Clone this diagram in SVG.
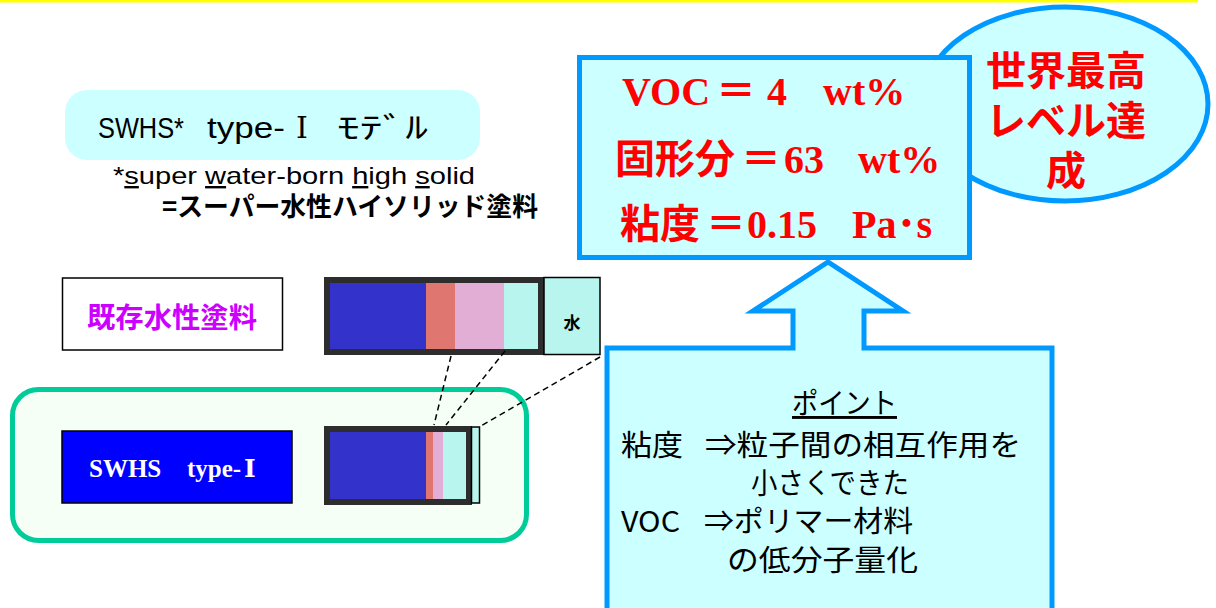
<svg xmlns="http://www.w3.org/2000/svg" width="1216" height="608" viewBox="0 0 1216 608">
<style>
.blueline{stroke:#0099ff;stroke-width:5;fill:#ccffff}
.red{fill:#ff0000;font-family:"Liberation Serif","Noto Sans CJK JP",serif;font-weight:bold;font-size:40px}
.redj{fill:#ff0000;font-family:"Noto Sans CJK JP",sans-serif;font-weight:bold;font-size:40px}
.pt{fill:#000;font-family:"Noto Sans CJK JP",sans-serif;font-size:29px}
.dash{stroke:#000;stroke-width:1.5;stroke-dasharray:6 4;fill:none}
.frame{fill:none;stroke:#2d2d2d;stroke-width:6}
</style>
<rect x="0" y="0" width="1198" height="2.5" fill="#ffff00"/>

<g id="title">
<rect x="65" y="90" width="415" height="70" rx="22" fill="#ccffff"/>
<text y="138" font-family="Liberation Sans,Noto Sans CJK JP,sans-serif" font-size="30" fill="#000"><tspan x="98" textLength="86" lengthAdjust="spacingAndGlyphs">SWHS*</tspan><tspan x="207" textLength="78" lengthAdjust="spacingAndGlyphs">type-</tspan><tspan x="296" font-family="Liberation Serif,DejaVu Serif,serif">Ⅰ</tspan><tspan x="337" textLength="91" lengthAdjust="spacingAndGlyphs">ﾓﾃﾞﾙ</tspan></text>
</g>

<g id="footnote">
<text x="113" y="184" font-family="Liberation Sans,sans-serif" font-size="24" fill="#000" textLength="362" lengthAdjust="spacingAndGlyphs">*<tspan text-decoration="underline">s</tspan>uper <tspan text-decoration="underline">w</tspan>ater-born <tspan text-decoration="underline">h</tspan>igh <tspan text-decoration="underline">s</tspan>olid</text>
<text x="162" y="216" font-family="Noto Sans CJK JP,sans-serif" font-size="26" font-weight="bold" fill="#000" textLength="376" lengthAdjust="spacingAndGlyphs">=スーパー水性ハイソリッド塗料</text>
</g>

<g id="existing-label">
<rect x="62.5" y="278" width="220" height="72" fill="#fff" stroke="#000" stroke-width="1.5"/>
<text x="87" y="328" font-family="Noto Sans CJK JP,sans-serif" font-size="28" font-weight="bold" fill="#cc00ff" textLength="170" lengthAdjust="spacingAndGlyphs">既存水性塗料</text>
</g>

<g id="existing-bar">
<rect x="330" y="283" width="96" height="66" fill="#3333cc"/>
<rect x="426" y="283" width="29" height="66" fill="#e07670"/>
<rect x="455" y="283" width="49" height="66" fill="#e2aed6"/>
<rect x="504" y="283" width="34" height="66" fill="#b8f5ee"/>
<rect x="327" y="280" width="214" height="72" class="frame"/>
<rect x="544" y="277.5" width="56" height="77" fill="#b8f5ee" stroke="#000" stroke-width="1.5"/>
<text x="572" y="329" text-anchor="middle" font-family="Noto Sans CJK JP,sans-serif" font-size="17" font-weight="bold" fill="#000">水</text>
</g>

<g id="swhs-group">
<rect x="12.5" y="389.5" width="514" height="151" rx="26" fill="#f5fff5" stroke="#00cc99" stroke-width="5"/>
<rect x="62" y="431" width="230" height="72" fill="#0000ff" stroke="#000" stroke-width="1.5"/>
<text y="477" font-family="Liberation Serif,DejaVu Serif,Noto Sans CJK JP,serif" font-size="25" font-weight="bold" fill="#fff"><tspan x="89">SWHS</tspan><tspan x="187">type-</tspan><tspan x="244">Ⅰ</tspan></text>
</g>

<g id="swhs-bar">
<rect x="330" y="432" width="96" height="67" fill="#3333cc"/>
<rect x="426" y="432" width="7" height="67" fill="#e07670"/>
<rect x="433" y="432" width="10" height="67" fill="#e2aed6"/>
<rect x="443" y="432" width="24" height="67" fill="#b8f5ee"/>
<rect x="327" y="429" width="142" height="73" class="frame"/>
<rect x="471.5" y="427" width="8" height="76" fill="#b8f5ee" stroke="#000" stroke-width="1.5"/>
</g>

<g id="connectors">
<line x1="451" y1="356" x2="434" y2="425" class="dash"/>
<line x1="505" y1="351" x2="446" y2="425" class="dash"/>
<line x1="600" y1="357" x2="481" y2="426" class="dash"/>
</g>

<g id="bubble">
<ellipse cx="1065" cy="104" rx="143" ry="97" class="blueline"/>
<text x="1066" y="85" text-anchor="middle" class="redj">世界最高</text>
<text x="1066" y="135" text-anchor="middle" class="redj">レベル達</text>
<text x="1066" y="185" text-anchor="middle" class="redj">成</text>
</g>

<g id="result-box">
<rect x="579.5" y="57.5" width="390" height="200" class="blueline"/>
<text y="105" class="red"><tspan x="622">VOC</tspan><tspan x="716">＝</tspan><tspan x="767">4</tspan><tspan x="823">wt%</tspan></text>
<text y="173" class="red"><tspan x="615">固形分</tspan><tspan x="741">＝</tspan><tspan x="784">63</tspan><tspan x="858">wt%</tspan></text>
<text y="238" class="red"><tspan x="620">粘度</tspan><tspan x="706">＝</tspan><tspan x="747">0.15</tspan><tspan x="852">Pa･s</tspan></text>
</g>

<g id="point-box">
<path d="M607,612 L607,348 L793,348 L793,311 L753,311 L828,262 L903,311 L864,311 L864,348 L1052,348 L1052,612" class="blueline"/>
<text x="792" y="414" class="pt" text-decoration="underline" textLength="105" lengthAdjust="spacingAndGlyphs">ポイント</text>
<text y="456" class="pt"><tspan x="621" textLength="62" lengthAdjust="spacingAndGlyphs">粘度</tspan><tspan x="705" textLength="316" lengthAdjust="spacingAndGlyphs">⇒粒子間の相互作用を</tspan></text>
<text x="751" y="494" class="pt" textLength="158" lengthAdjust="spacingAndGlyphs">小さくできた</text>
<text y="532" class="pt"><tspan x="621" textLength="59" lengthAdjust="spacingAndGlyphs">VOC</tspan><tspan x="704" textLength="209" lengthAdjust="spacingAndGlyphs">⇒ポリマー材料</tspan></text>
<text x="727" y="571" class="pt" textLength="191" lengthAdjust="spacingAndGlyphs">の低分子量化</text>
</g>
</svg>
